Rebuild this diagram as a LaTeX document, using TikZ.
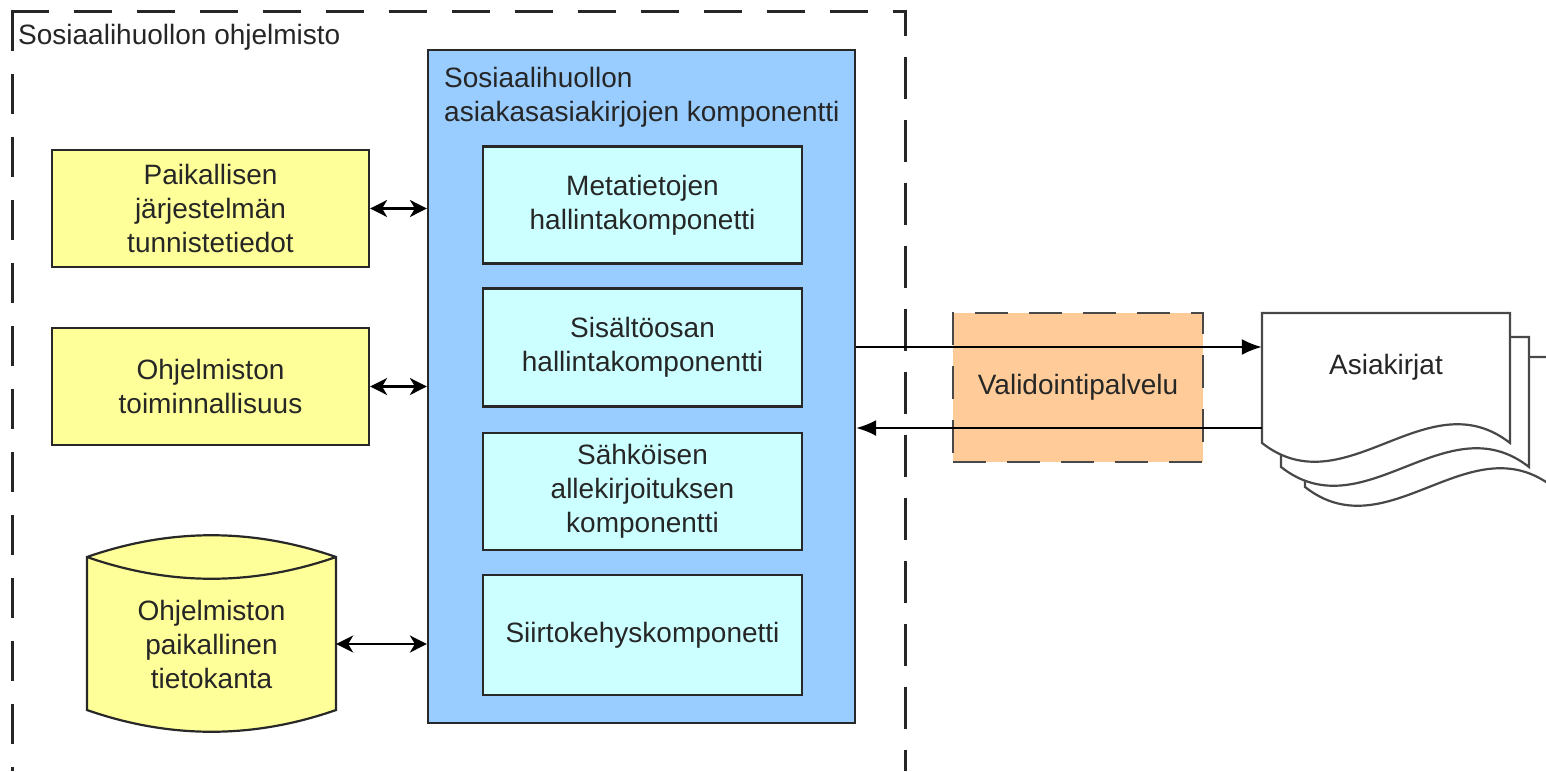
\documentclass[tikz,border=0pt]{standalone}
\usepackage{fontspec}
\setmainfont{Liberation Sans}
\usetikzlibrary{arrows.meta,calc}
\definecolor{ylw}{HTML}{FFFF99}
\definecolor{blu}{HTML}{99CCFF}
\definecolor{cya}{HTML}{CCFFFF}
\definecolor{org}{HTML}{FFCC99}
\definecolor{bordc}{HTML}{282828}
\definecolor{txtc}{HTML}{262626}
\definecolor{docc}{HTML}{484848}
\tikzset{
  txt/.style={font=\fontsize{28}{34}\selectfont, text=txtc, inner sep=0pt, align=center},
  box/.style={txt, draw=bordc, line width=2.2pt},
  framel/.style={draw=black!85, line width=3pt},
  sheet/.style={draw=docc, fill=white, line width=2.2pt, line join=miter},
  conn/.style={draw=black, line width=2.2pt},
  dbl/.style={conn, {Stealth[length=17pt,width=17pt,inset=5pt]}-{Stealth[length=17pt,width=17pt,inset=5pt]}},
  one/.style={conn, -{Latex[length=20pt,width=16pt]}}
}
\begin{document}
\begin{tikzpicture}[x=1pt,y=-1pt]
\useasboundingbox (0,0) rectangle (1546,771);
\clip (0,0) rectangle (1546,771);
\fill[white] (0,0) rectangle (1546,771);

% outer dashed frame
\draw[framel, dash pattern=on 40pt off 23pt] (12,11) -- (12,771);
\draw[framel, dash pattern=on 38pt off 25pt] (10.5,11) -- (905,11);
\draw[framel, dash pattern=on 42pt off 21pt, dash phase=16pt] (905,9.5) -- (905,771);
\node[txt, anchor=base west] (frl) at (18,44) {Sosiaalihuollon ohjelmisto};

% component container
\node[box, fill=blu, minimum width=427pt, minimum height=673pt] (blue) at (641.5,386.5) {};
\node[txt, anchor=base west, align=left] (bl) at (444,121) {Sosiaalihuollon\\asiakasasiakirjojen komponentti};

\node[box, fill=cya, minimum width=319pt, minimum height=117pt] (c1) at (642.5,205) {Metatietojen\\hallintakomponetti};
\node[box, fill=cya, minimum width=319pt, minimum height=118pt] (c2) at (642.5,347.5) {Sisältöosan\\hallintakomponentti};
\node[box, fill=cya, minimum width=319pt, minimum height=117pt] (c3) at (642.5,491.5) {Sähköisen\\allekirjoituksen\\komponentti};
\node[box, fill=cya, minimum width=319pt, minimum height=120pt] (c4) at (642.5,635) {Siirtokehyskomponetti};

% left boxes
\node[box, fill=ylw, minimum width=317pt, minimum height=117pt] (p1) at (210.5,208.5) {Paikallisen\\järjestelmän\\tunnistetiedot};
\node[box, fill=ylw, minimum width=317pt, minimum height=117pt] (p2) at (210.5,386.5) {Ohjelmiston\\toiminnallisuus};

% database cylinder
\filldraw[fill=ylw, draw=bordc, line width=2.2pt, line join=miter]
  (87,557) .. controls (170,528) and (253,528) .. (336,557)
  -- (336,710) .. controls (253,739) and (170,739) .. (87,710) -- cycle;
\draw[draw=bordc, line width=2.2pt] (87,557) .. controls (170,586) and (253,586) .. (336,557);
\node[txt, minimum width=249pt] (db) at (211.5,644) {Ohjelmiston\\paikallinen\\tietokanta};

% validation service
\node[box, fill=org, draw=docc, dash pattern=on 33pt off 21pt, minimum width=250pt, minimum height=149pt] (val) at (1078,387.5) {Validointipalvelu};

% documents
\foreach \dx/\dy in {43/44, 19/24, 0/0} {
  \draw[sheet, shift={(\dx,\dy)}] (1262,443) -- (1262,313) -- (1510,313) -- (1510,443)
    .. controls (1427,378) and (1345,508) .. (1262,443) -- cycle;
}
\node[txt, minimum width=248pt] (doc) at (1386,367) {Asiakirjat};

% connectors
\coordinate (ya) at (0,347);
\coordinate (yb) at (0,428);
\draw[dbl] (p1.east) -- (p1.east -| blue.west);
\draw[dbl] (p2.east) -- (p2.east -| blue.west);
\draw[dbl] (db.east) -- (db.east -| blue.west);
\draw[one] (blue.east |- ya) -- (doc.west |- ya);
\draw[one] (doc.west |- yb) -- (blue.east |- yb);
\end{tikzpicture}
\end{document}
